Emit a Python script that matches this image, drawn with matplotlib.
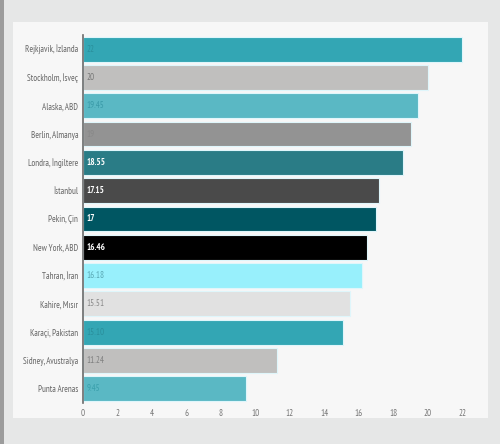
import matplotlib
matplotlib.use("Agg")
import matplotlib.pyplot as plt
from matplotlib.patches import Rectangle

cities = ["Rejkjavik, İzlanda", "Stockholm, İsveç", "Alaska, ABD", "Berlin, Almanya",
          "Londra, İngiltere", "İstanbul", "Pekin, Çin", "New York, ABD", "Tahran, İran",
          "Kahire, Mısır", "Karaçi, Pakistan", "Sidney, Avustralya", "Punta Arenas"]
values = [22, 20, 19.45, 19, 18.55, 17.15, 17, 16.46, 16.18, 15.51, 15.10, 11.24, 9.45]
labels = ["22", "20", "19.45", "19", "18.55", "17.15", "17", "16.46", "16.18",
          "15.51", "15.10", "11.24", "9.45"]
bar_colors = ["#33a6b4", "#c0bfbe", "#5ab8c4", "#939393", "#2a7c86", "#4a4a4a",
              "#005662", "#000000", "#98f0fc", "#e1e1e1", "#33a6b4", "#c0bfbe", "#5ab8c4"]
label_colors = ["#2a8f9c", "#777777", "#3a9aa8", "#888888", "#ffffff", "#ffffff",
                "#ffffff", "#ffffff", "#5aa8b4", "#8a8a8a", "#2a8f9c", "#808080", "#3aa0ac"]
label_bold = [False, False, False, False, True, True, True, True, False, False, False, False, False]
xticks = [0, 2, 4, 6, 8, 10, 12, 14, 16, 18, 20, 22]

plt.rcParams["font.family"] = ["PT Sans Narrow", "DejaVu Sans"]

fig = plt.figure(figsize=(5.0, 4.44), dpi=100)
fig.patch.set_facecolor("#e6e7e7")
# left darker stripe and light panel
fig.add_artist(Rectangle((0, 0), 0.007, 1, transform=fig.transFigure,
                         facecolor="#9c9c9c", edgecolor="none", zorder=0))
fig.add_artist(Rectangle((0.026, 0.0586), 0.95, 0.892, transform=fig.transFigure,
                         facecolor="#f7f7f7", edgecolor="none", zorder=0))

ax = fig.add_axes([0.166, 0.0923, 0.8, 0.829])
ax.patch.set_visible(False)

y = list(range(len(cities)))
ax.barh(y, values, height=0.88, color=bar_colors, edgecolor="#dff6fb", linewidth=0.8, zorder=2)
for yi, v, lab, c, b in zip(y, values, labels, label_colors, label_bold):
    ax.text(0.2, yi, lab, va="center", ha="left", fontsize=6.5, color=c,
            fontweight="bold" if b else "normal", zorder=3)

ax.set_xlim(0, 23.2)
ax.set_ylim(len(cities) - 0.5, -0.5)
ax.set_yticks(y)
ax.set_yticklabels(cities)
ax.set_xticks(xticks)
ax.set_xticklabels([str(t) for t in xticks])
ax.tick_params(axis="y", length=0, pad=3.5, labelsize=6.4, labelcolor="#666666")
ax.tick_params(axis="x", length=0, pad=4.5, labelsize=6.5, labelcolor="#777777")
for s in ["top", "right", "bottom"]:
    ax.spines[s].set_visible(False)
ax.spines["left"].set_color("#6a6a6a")
ax.spines["left"].set_linewidth(1.2)
ax.spines["left"].set_zorder(4)

fig.savefig("out.png", dpi=100, facecolor=fig.get_facecolor())
